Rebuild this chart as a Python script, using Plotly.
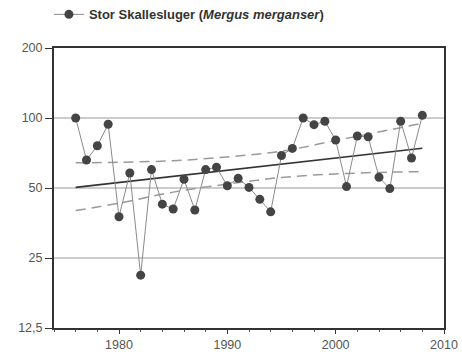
import plotly.graph_objects as go

# Index values (1976-2008)
years = list(range(1976, 2009))
index = [100, 66, 76, 94, 37.6, 58, 21.1, 60, 42.6, 40.6,
         54.5, 40.2, 60, 61.4, 51.1, 55, 50.3, 44.7, 39.5, 69,
         74, 100, 93.6, 96.8, 80.4, 50.7, 83.7, 83, 55.6, 49.7,
         96.8, 67.3, 102.7]

# trend line and confidence band
trend_years = [1976, 2008]
trend_vals = [50.3, 74.1]
band_years = [1976, 1980, 1985, 1990, 1995, 2000, 2005, 2008]
band_upper = [64.2, 64.5, 65.5, 68, 72, 80, 89, 95]
band_lower = [40, 43, 48, 52, 55.5, 57.5, 58.5, 58.8]

ytick_vals = [12.5, 25, 50, 100, 200]
ytick_text = ['12,5', '25', '50', '100', '200']
xtick_vals = [1980, 1990, 2000, 2010]

fig = go.Figure()

fig.add_trace(go.Scatter(x=band_years, y=band_upper, mode='lines', line_shape='spline',
                         line=dict(color='#9a9a9a', width=1.5, dash='10px,6px'),
                         showlegend=False, hoverinfo='skip'))
fig.add_trace(go.Scatter(x=band_years, y=band_lower, mode='lines', line_shape='spline',
                         line=dict(color='#9a9a9a', width=1.5, dash='10px,6px'),
                         showlegend=False, hoverinfo='skip'))
fig.add_trace(go.Scatter(x=trend_years, y=trend_vals, mode='lines',
                         line=dict(color='#333333', width=1.6),
                         showlegend=False, hoverinfo='skip'))

fig.add_trace(go.Scatter(
    x=years, y=index, mode='lines+markers',
    name='<b>Stor Skallesluger (<i>Mergus merganser</i>)</b>',
    line=dict(color='#8a8a8a', width=1),
    marker=dict(color='#444444', size=9),
))

fig.update_layout(
    width=462, height=356,
    margin=dict(l=54, r=18, t=48, b=28, autoexpand=False),
    plot_bgcolor='white', paper_bgcolor='white',
    font=dict(family='Liberation Sans, Arial', size=12.5, color='#555555'),
    showlegend=True,
    legend=dict(orientation='h', x=-0.013, y=1.12, xanchor='left', yanchor='middle',
                font=dict(size=13, color='#333333'), itemwidth=30,
                bgcolor='rgba(0,0,0,0)'),
)

fig.update_xaxes(
    range=[1974, 2010], tickvals=xtick_vals, showgrid=False,
    showline=True, mirror=True, linecolor='#333333', linewidth=2,
    ticks='outside', ticklen=4, tickcolor='#333333',
    minor=dict(ticks='outside', ticklen=2, dtick=2, tick0=1974, tickcolor='#555555', showgrid=False),
    zeroline=False,
)
fig.update_yaxes(
    type='log', range=[1.09691, 2.30103],
    tickvals=ytick_vals, ticktext=ytick_text,
    showgrid=True, gridcolor='#cccccc', gridwidth=2,
    showline=True, mirror=True, linecolor='#333333', linewidth=2,
    ticks='outside', ticklen=7, tickcolor='#333333',
    zeroline=False,
)

# drop the default page margin so the figure fills the window exactly
fig.write_html("out.html", config={'displayModeBar': False},
               post_script="document.body.style.margin='0';")
